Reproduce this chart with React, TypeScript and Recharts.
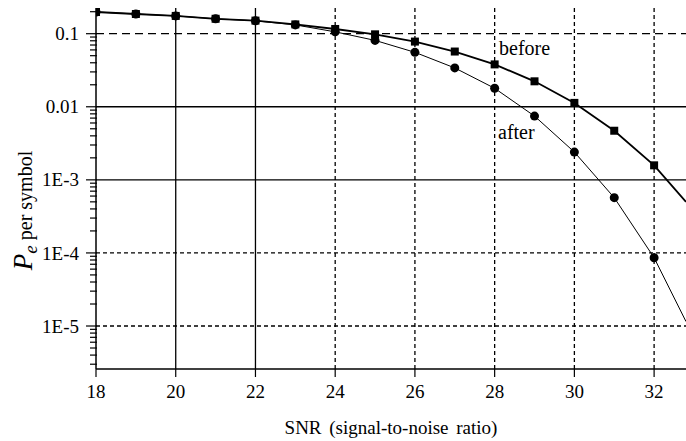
import { LineChart, Line, XAxis, YAxis, ReferenceLine } from 'recharts';

// SNR in dB; last entry is where the curves leave the frame (no marker there)
const snr = [18, 19, 20, 21, 22, 23, 24, 25, 26, 27, 28, 29, 30, 31, 32, 32.8];
const before = [
  0.198, 0.186, 0.175, 0.16, 0.151, 0.134, 0.116, 0.098, 0.078, 0.057, 0.038, 0.0223,
  0.0113, 0.0047, 0.00158, 0.0005,
];
const after = [
  0.198, 0.186, 0.175, 0.16, 0.15, 0.132, 0.106, 0.081, 0.0556, 0.034, 0.0179, 0.00746,
  0.0024, 0.00057, 0.000086, 0.0000115,
];

const xTicks = [18, 20, 22, 24, 26, 28, 30, 32];
const xSolid = [20, 22];
const xDashed = [24, 26, 28, 30, 32];
const yMajor = [1e-5, 1e-4, 1e-3, 0.01, 0.1];
const yLabels = ['1E-5', '1E-4', '1E-3', '0.01', '0.1'];

const X_DOMAIN: [number, number] = [18, 32.8];
const Y_DOMAIN: [number, number] = [2.58e-6, 0.2247];
const FONT = 'Liberation Serif';
const txt = (size: number, extra: any = {}) => ({ fontFamily: FONT, fontSize: size, fill: '#000', ...extra });

const data = snr.map((s, i) => ({ snr: s, before: before[i], after: after[i] }));

// minor log ticks 2..9 per decade
const yMinor: number[] = [];
for (let e = -6; e <= -1; e++) {
  for (let m = 2; m <= 9; m++) {
    const v = m * Math.pow(10, e);
    if (v >= Y_DOMAIN[0] && v <= Y_DOMAIN[1]) yMinor.push(v);
  }
}
const yTicks = [...yMajor, ...yMinor].sort((a, b) => a - b);

function YTick(props: any) {
  const { x, y, payload } = props;
  const idx = yMajor.indexOf(payload.value);
  const major = idx >= 0;
  return (
    <g>
      <line x1={x - (major ? 10 : 6)} x2={x + 1} y1={y} y2={y} stroke="#000" strokeWidth={1.2} />
      {major && (
        <text x={x - 17} y={y} dy="0.35em" textAnchor="end" style={txt(19)}>
          {yLabels[idx]}
        </text>
      )}
    </g>
  );
}

function XTick(props: any) {
  const { x, y, payload } = props;
  return (
    <text x={x} y={y} dy="0.9em" textAnchor="middle" style={txt(19)}>
      {payload.value}
    </text>
  );
}

function SquareDot(props: any) {
  const { cx, cy, payload } = props;
  if (!Number.isInteger(payload.snr)) return <g key={props.key} />;
  return <rect key={props.key} x={cx - 4} y={cy - 4} width={8} height={8} fill="#000" />;
}

function CircleDot(props: any) {
  const { cx, cy, payload } = props;
  if (!Number.isInteger(payload.snr)) return <g key={props.key} />;
  return <circle key={props.key} cx={cx} cy={cy} r={4.5} fill="#000" />;
}

export default function App() {
  return (
    <div style={{ position: 'absolute', left: 0, top: 0, background: '#fff' }}>
      <LineChart
        width={686}
        height={441}
        data={data}
        margin={{ top: 8, right: 0, bottom: 0, left: 0 }}
      >
        <XAxis
          xAxisId="top"
          orientation="top"
          type="number"
          dataKey="snr"
          domain={X_DOMAIN}
          allowDataOverflow
          height={0}
          tick={false}
          tickLine={false}
          axisLine={{ stroke: '#000', strokeWidth: 1.5 }}
        />
        <XAxis
          type="number"
          dataKey="snr"
          domain={X_DOMAIN}
          allowDataOverflow
          ticks={xTicks}
          interval={0}
          height={72}
          tickSize={8}
          tickMargin={4}
          tickLine={{ stroke: '#000', strokeWidth: 1.2 }}
          axisLine={{ stroke: '#000', strokeWidth: 1.5 }}
          tick={<XTick />}
          label={{
            content: ({ viewBox }: any) => (
              <text
                x={viewBox.x + viewBox.width / 2}
                y={viewBox.y + 65}
                textAnchor="middle"
                style={txt(19, { wordSpacing: 3 })}
              >
                SNR (signal-to-noise ratio)
              </text>
            ),
          }}
        />
        <YAxis
          scale="log"
          domain={Y_DOMAIN}
          allowDataOverflow
          ticks={yTicks}
          interval={0}
          width={96}
          tickSize={0}
          tickMargin={0}
          tickLine={false}
          tick={<YTick />}
          axisLine={{ stroke: '#000', strokeWidth: 1.5 }}
          label={{
            content: ({ viewBox }: any) => (
              <text
                transform={`translate(${viewBox.x + 32}, ${viewBox.y + viewBox.height / 2 + 22}) rotate(-90)`}
                textAnchor="middle"
                style={txt(20)}
              >
                <tspan style={txt(27, { fontStyle: 'italic' })}>P</tspan>
                <tspan style={txt(19, { fontStyle: 'italic' })} dy={5}>e</tspan>
                <tspan dy={-5}> per symbol</tspan>
              </text>
            ),
          }}
        />

        {xSolid.map((v) => (
          <ReferenceLine key={`xs${v}`} x={v} stroke="#000" strokeWidth={1.3} />
        ))}
        {xDashed.map((v) => (
          <ReferenceLine key={`xd${v}`} x={v} stroke="#000" strokeWidth={1.3} strokeDasharray="4 3" />
        ))}
        <ReferenceLine y={0.1} stroke="#000" strokeWidth={1.3} strokeDasharray="8 5" />
        <ReferenceLine y={0.01} stroke="#000" strokeWidth={1.3} />
        <ReferenceLine y={1e-3} stroke="#000" strokeWidth={1.3} />
        <ReferenceLine y={1e-4} stroke="#000" strokeWidth={1.3} strokeDasharray="4 3" />
        <ReferenceLine y={1e-5} stroke="#000" strokeWidth={1.3} strokeDasharray="4 3" />

        <Line
          dataKey="after"
          stroke="#000"
          strokeWidth={1}
          dot={<CircleDot />}
          activeDot={false}
          isAnimationActive={false}
        />
        <Line
          dataKey="before"
          stroke="#000"
          strokeWidth={1.8}
          dot={<SquareDot />}
          activeDot={false}
          isAnimationActive={false}
        />

        <text x={499} y={55} style={txt(20)}>before</text>
        <text x={498} y={139} style={txt(20)}>after</text>
      </LineChart>
    </div>
  );
}
